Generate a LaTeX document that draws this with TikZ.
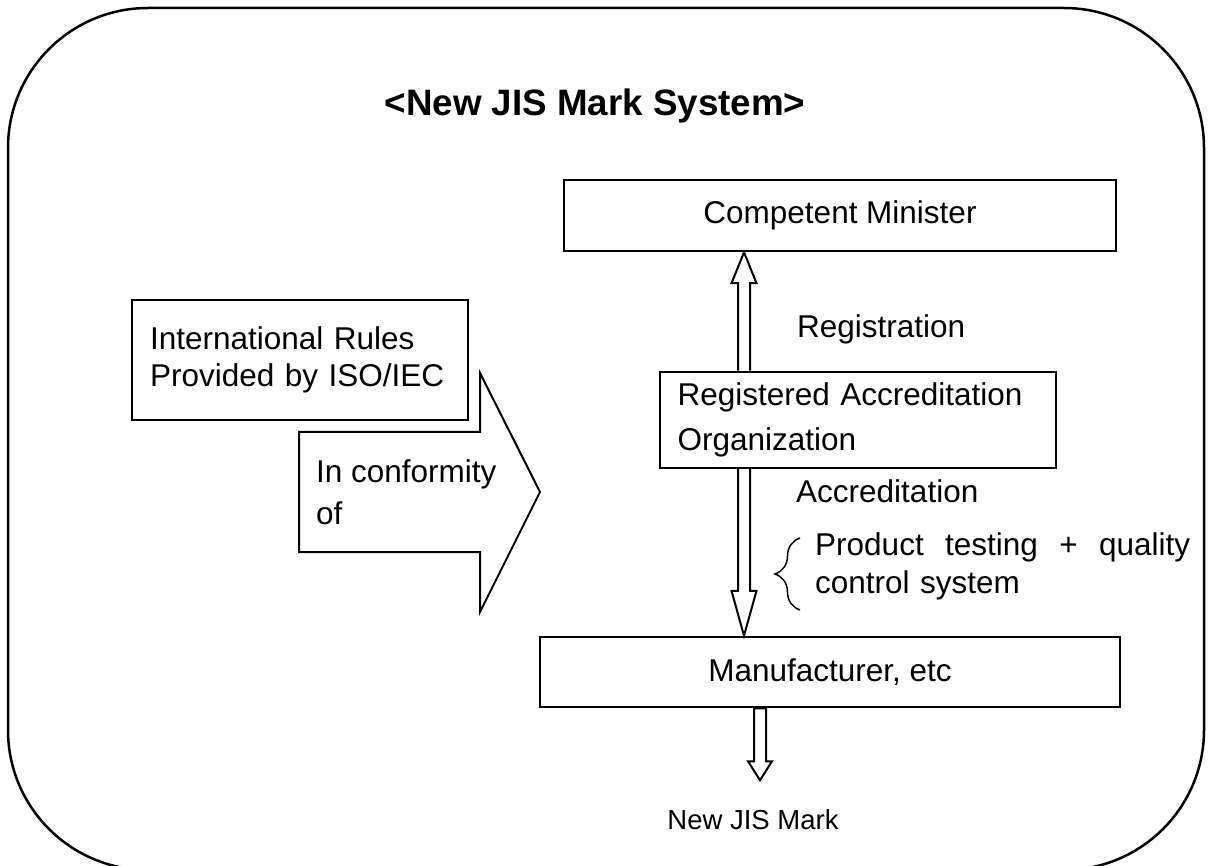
\documentclass[tikz,border=0pt]{standalone}
\usepackage{fontspec}
\setmainfont{Liberation Sans}
\usetikzlibrary{calc,decorations.pathreplacing}

\begin{document}
\begin{tikzpicture}[x=1pt,y=-1pt,
  box/.style={draw, line width=2.5pt, inner sep=0pt},
  hollow/.style={draw, line width=2pt, line join=miter},
  txt/.style={inner sep=0pt, font=\fontsize{31.5}{37}\selectfont}]
\useasboundingbox (0,0) rectangle (1208,866);
\clip (0,0) rectangle (1208,866);
\draw[line width=2.5pt, rounded corners=140pt] (8,8) rectangle (1204,870);

\node[inner sep=0pt, anchor=base, font=\bfseries\fontsize{36.75}{44}\selectfont] (title) at (595,116) {<New JIS Mark System>};

\node[box, txt, minimum width=552pt, minimum height=71pt] (cm) at (840,215.5) {Competent Minister};
\node[box, txt, align=left, text width=361pt, minimum width=396pt, minimum height=96pt,
      font=\fontsize{31.5}{45}\selectfont] (reg) at (858,420) {Registered Accreditation\\Organization};
\node[box, txt, minimum width=580pt, minimum height=70pt] (mf) at (830,672) {Manufacturer, etc};
\node[box, txt, align=left, text width=300pt, minimum width=336pt, minimum height=120pt] (iso) at (300,360) {International Rules\\Provided by ISO/IEC};

% block arrow
\draw[hollow] (299,432) -- (480,432) -- (480,373) -- (540,492) -- (480,612) -- (480,552) -- (299,552) -- cycle;
\node[txt, align=left, anchor=west, font=\fontsize{31.5}{42}\selectfont] (conf) at (316,492) {In conformity\\of};

\coordinate (ax) at (744,0);
\coordinate (bx) at (760,0);
\draw[hollow] ($(reg.north -| ax)+(-6,0)$) -- ($(cm.south -| ax)+(-6,31)$) -- ++(-6.5,0) -- (cm.south -| ax)
  -- ++(12.5,31) -- ++(-6.5,0) -- ($(reg.north -| ax)+(6,0)$);
\draw[hollow] ($(reg.south -| ax)+(-6,0)$) -- ($(mf.north -| ax)+(-6,-45)$) -- ++(-6.5,0) -- (mf.north -| ax)
  -- ++(12.5,-45) -- ++(-6.5,0) -- ($(reg.south -| ax)+(6,0)$);
\draw[hollow] ($(mf.south -| bx)+(-6,0)$) -- ++(0,53) -- ++(-6,0) -- ($(mf.south -| bx)+(0,72)$)
  -- ++(12,-19) -- ++(-6,0) -- ($(mf.south -| bx)+(6,0)$) -- cycle;

\node[txt, anchor=base west] (regl) at (797,338) {Registration};
\node[txt, anchor=base west] (accl) at (796,503) {Accreditation};
\draw[line width=1.5pt, decorate, decoration={brace, amplitude=25pt}] (800,610) -- (800,538);
\node[txt, align=left, text width=375pt, anchor=west, font=\fontsize{31.5}{38}\selectfont] (test) at (815,566)
  {Product\hfill testing\hfill +\hfill quality\\control system};
\node[inner sep=0pt, anchor=base, font=\fontsize{27.5}{33}\selectfont] (mark) at (753,829) {New JIS Mark};
\end{tikzpicture}
\end{document}
